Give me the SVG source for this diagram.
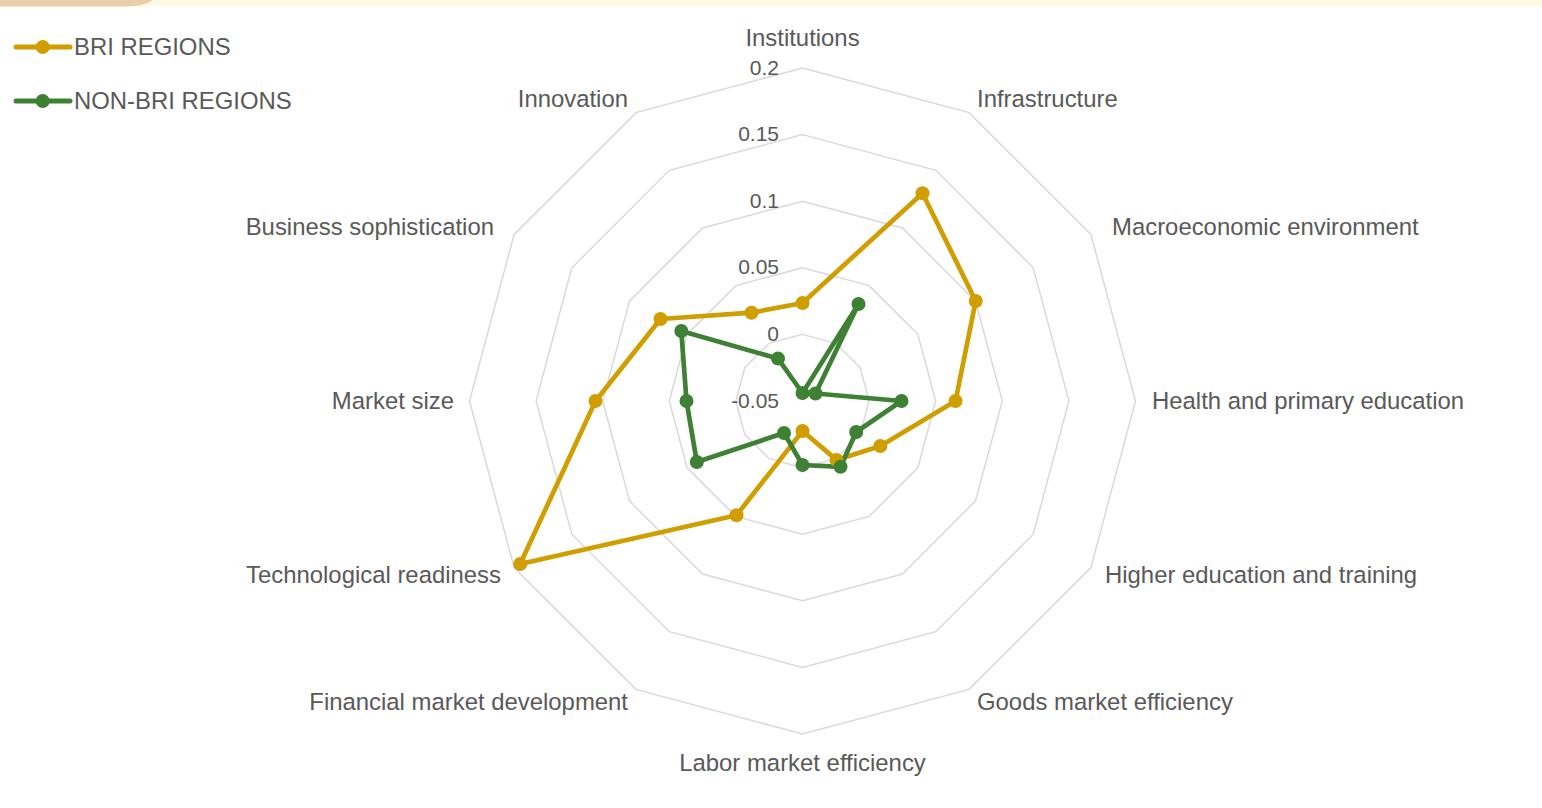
<svg xmlns="http://www.w3.org/2000/svg" width="1542" height="808" viewBox="0 0 1542 808">
<style>
.ring{fill:none;stroke:#D9D9D9;stroke-width:1.5}
.tick{font-family:"Liberation Sans",Arial,sans-serif;font-size:21px;fill:#595959;text-anchor:end}
.lab{font-family:"Liberation Sans",Arial,sans-serif;font-size:23.9px;fill:#595959}
.bri{fill:none;stroke:#D09E00;stroke-width:4.7;stroke-linejoin:round}
.non{fill:none;stroke:#3E8034;stroke-width:4.7;stroke-linejoin:round}
.mb{fill:#D09E00}
.mn{fill:#3E8034}
</style>
<rect x="0" y="0" width="1542" height="6.5" fill="#FFF9E3"/>
<path d="M0 0 H153 Q143 6.5 128 6.5 H0 Z" fill="#E8CEA9"/>
<g id="grid">
<polygon class="ring" points="802.5,68 969,112.6 1090.9,234.5 1135.5,401 1090.9,567.5 969,689.4 802.5,734 636,689.4 514.1,567.5 469.5,401 514.1,234.5 636,112.6"/>
<polygon class="ring" points="802.5,134.6 935.7,170.3 1033.2,267.8 1068.9,401 1033.2,534.2 935.7,631.7 802.5,667.4 669.3,631.7 571.8,534.2 536.1,401 571.8,267.8 669.3,170.3"/>
<polygon class="ring" points="802.5,201.2 902.4,228 975.5,301.1 1002.3,401 975.5,500.9 902.4,574 802.5,600.8 702.6,574 629.5,500.9 602.7,401 629.5,301.1 702.6,228"/>
<polygon class="ring" points="802.5,267.8 869.1,285.6 917.9,334.4 935.7,401 917.9,467.6 869.1,516.4 802.5,534.2 735.9,516.4 687.1,467.6 669.3,401 687.1,334.4 735.9,285.6"/>
<polygon class="ring" points="802.5,334.4 835.8,343.3 860.2,367.7 869.1,401 860.2,434.3 835.8,458.7 802.5,467.6 769.2,458.7 744.8,434.3 735.9,401 744.8,367.7 769.2,343.3"/>
</g>
<g id="ticks">
<text class="tick" x="779" y="74.5">0.2</text>
<text class="tick" x="779" y="141">0.15</text>
<text class="tick" x="779" y="207.5">0.1</text>
<text class="tick" x="779" y="274">0.05</text>
<text class="tick" x="779" y="341">0</text>
<text class="tick" x="779" y="408">-0.05</text>
</g>
<g id="axis-labels">
<text class="lab" x="802.5" y="45.5" text-anchor="middle">Institutions</text>
<text class="lab" x="977" y="106.5">Infrastructure</text>
<text class="lab" x="1112" y="234.5">Macroeconomic environment</text>
<text class="lab" x="1152" y="408.5">Health and primary education</text>
<text class="lab" x="1105" y="582.5">Higher education and training</text>
<text class="lab" x="977" y="709.5">Goods market efficiency</text>
<text class="lab" x="802.5" y="770.5" text-anchor="middle">Labor market efficiency</text>
<text class="lab" x="628" y="709.5" text-anchor="end">Financial market development</text>
<text class="lab" x="501" y="582.5" text-anchor="end">Technological readiness</text>
<text class="lab" x="454" y="408.5" text-anchor="end">Market size</text>
<text class="lab" x="494" y="234.5" text-anchor="end">Business sophistication</text>
<text class="lab" x="628" y="106.5" text-anchor="end">Innovation</text>
</g>
<g id="connectors">
<polygon id="series-bri" class="bri" points="802.5,303 922.5,193.2 975.7,301 955.5,401 880.4,446 836.5,459.9 802.5,431 736.5,515.3 520.2,564 595.5,401 660.5,319 751.5,312.7"/>
<polygon id="series-non-bri" class="non" points="802.5,393 858.5,304 815.5,393.5 901.5,401 856.2,432 840.5,466.8 802.5,465 784,433 696.8,462 686.5,401 681.3,331 778,358.6"/>
</g>
<g id="markers-bri">
<circle class="mb" cx="802.5" cy="303" r="7"/><circle class="mb" cx="922.5" cy="193.2" r="7"/><circle class="mb" cx="975.7" cy="301" r="7"/><circle class="mb" cx="955.5" cy="401" r="7"/><circle class="mb" cx="880.4" cy="446" r="7"/><circle class="mb" cx="836.5" cy="459.9" r="7"/><circle class="mb" cx="802.5" cy="431" r="7"/><circle class="mb" cx="736.5" cy="515.3" r="7"/><circle class="mb" cx="520.2" cy="564" r="7"/><circle class="mb" cx="595.5" cy="401" r="7"/><circle class="mb" cx="660.5" cy="319" r="7"/><circle class="mb" cx="751.5" cy="312.7" r="7"/>
</g>
<g id="markers-non-bri">
<circle class="mn" cx="802.5" cy="393" r="7"/><circle class="mn" cx="858.5" cy="304" r="7"/><circle class="mn" cx="815.5" cy="393.5" r="7"/><circle class="mn" cx="901.5" cy="401" r="7"/><circle class="mn" cx="856.2" cy="432" r="7"/><circle class="mn" cx="840.5" cy="466.8" r="7"/><circle class="mn" cx="802.5" cy="465" r="7"/><circle class="mn" cx="784" cy="433" r="7"/><circle class="mn" cx="696.8" cy="462" r="7"/><circle class="mn" cx="686.5" cy="401" r="7"/><circle class="mn" cx="681.3" cy="331" r="7"/><circle class="mn" cx="778" cy="358.6" r="7"/>
</g>
<g id="legend">
<g id="legend-bri">
<line x1="16" y1="47" x2="70" y2="47" stroke="#D09E00" stroke-width="5" stroke-linecap="round"/>
<circle class="mb" cx="42.7" cy="47" r="7"/>
<text class="lab" x="74" y="54.5">BRI REGIONS</text>
</g>
<g id="legend-non-bri">
<line x1="16" y1="101" x2="70" y2="101" stroke="#3E8034" stroke-width="5" stroke-linecap="round"/>
<circle class="mn" cx="42.7" cy="101" r="7"/>
<text class="lab" x="74" y="108.5">NON-BRI REGIONS</text>
</g>
</g>
</svg>
